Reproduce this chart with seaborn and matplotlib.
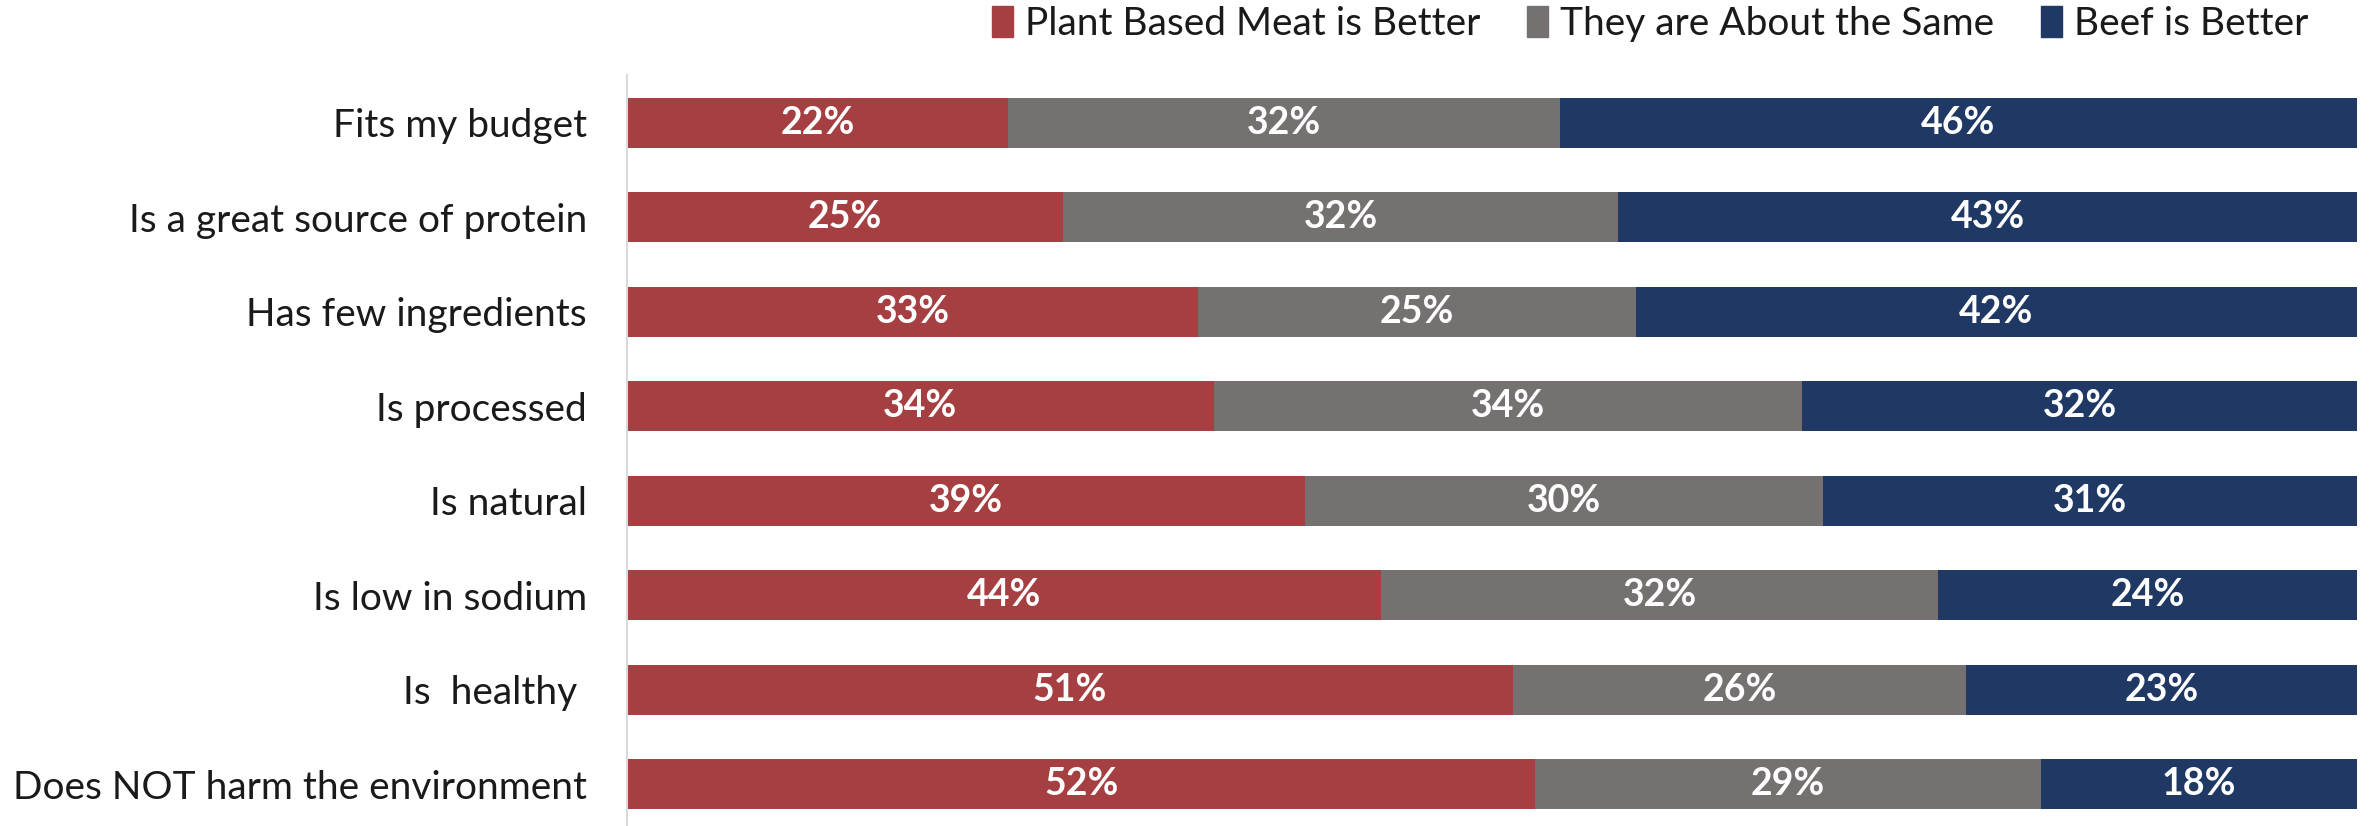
#!/usr/bin/env python3
"""Plant based meat vs beef: stacked horizontal bar chart."""

import matplotlib

matplotlib.use("Agg")
import matplotlib.pyplot as plt
import matplotlib.patches as mpatches
import pandas as pd
import seaborn as sns

attributes = [
    "Fits my budget",
    "Is a great source of protein",
    "Has few ingredients",
    "Is processed",
    "Is natural",
    "Is low in sodium",
    "Is  healthy ",
    "Does NOT harm the environment",
]
series_names = ["Plant Based Meat is Better", "They are About the Same", "Beef is Better"]
# segment widths as drawn (shares of 100)
plant_better = [22.0, 25.2, 33.0, 33.9, 39.2, 43.6, 51.2, 52.5]
about_same = [31.9, 32.1, 25.3, 34.0, 29.9, 32.2, 26.2, 29.2]
beef_better = [46.1, 42.7, 41.7, 32.1, 30.9, 24.2, 22.6, 18.3]
# printed labels
plant_labels = ["22%", "25%", "33%", "34%", "39%", "44%", "51%", "52%"]
same_labels = ["32%", "32%", "25%", "34%", "30%", "32%", "26%", "29%"]
beef_labels = ["46%", "43%", "42%", "32%", "31%", "24%", "23%", "18%"]

colors = ["#A53F41", "#767171", "#1F3864"]

sns.set_style("white")
plt.rcParams["font.family"] = ["Lato", "DejaVu Sans"]

frame = pd.DataFrame(
    {
        "attribute": attributes,
        "plant": plant_better,
        "same": about_same,
        "beef": beef_better,
    }
)
frame["cum_plant"] = frame["plant"]
frame["cum_same"] = frame["plant"] + frame["same"]
frame["cum_beef"] = frame["cum_same"] + frame["beef"]

fig = plt.figure(figsize=(23.69, 8.26), dpi=100)
ax = fig.add_axes([0.2647, 0.0, 0.7303, 0.9086])

# stacked bars: draw the longest first so shorter ones sit on top
for col, color in [("cum_beef", colors[2]), ("cum_same", colors[1]), ("cum_plant", colors[0])]:
    sns.barplot(
        data=frame,
        x=col,
        y="attribute",
        order=attributes,
        orient="h",
        color=color,
        width=0.53,
        saturation=1,
        edgecolor="none",
        ax=ax,
    )

for i, row in frame.iterrows():
    starts = [0, row["cum_plant"], row["cum_same"]]
    widths = [row["plant"], row["same"], row["beef"]]
    texts = [plant_labels[i], same_labels[i], beef_labels[i]]
    for s, w, t in zip(starts, widths, texts):
        ax.text(s + w / 2, i, t, ha="center", va="center", color="white",
                fontsize=27, fontweight="bold")

ax.set_xlim(0, 100)
ax.set_ylim(7.44, -0.5)
ax.set_xlabel("")
ax.set_ylabel("")
ax.set_xticks([])
ax.tick_params(axis="y", length=0, pad=29, labelsize=28, labelcolor="#1a1a1a")
for side in ["top", "right", "bottom"]:
    ax.spines[side].set_visible(False)
ax.spines["left"].set_color("#D9D9D9")
ax.spines["left"].set_linewidth(1.5)

handles = [mpatches.Patch(color=c, label=n) for c, n in zip(colors, series_names)]
fig.legend(
    handles=handles,
    loc="upper right",
    bbox_to_anchor=(0.989, 1.035),
    ncol=3,
    frameon=False,
    fontsize=28,
    handlelength=0.55,
    handleheight=0.85,
    handletextpad=0.3,
    columnspacing=1.2,
    labelcolor="#1a1a1a",
)

fig.savefig("out.png", dpi=100)
